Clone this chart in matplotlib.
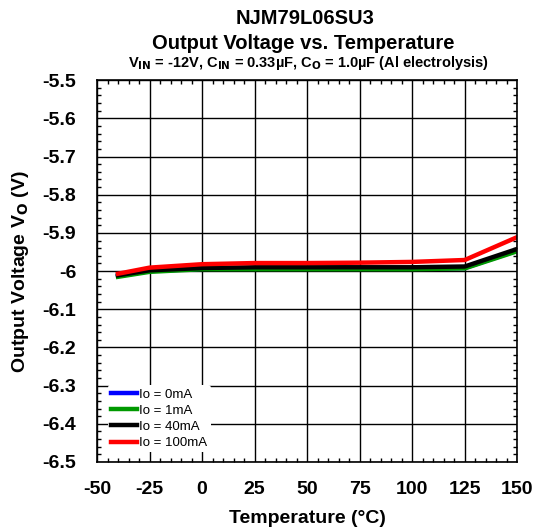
import numpy as np
import matplotlib.pyplot as plt
from matplotlib.ticker import MultipleLocator

plt.rcParams['font.family'] = ['Liberation Sans', 'DejaVu Sans']
plt.rcParams['axes.unicode_minus'] = False

# === Data ===
temp = [-40, -25, 0, 25, 50, 75, 100, 125, 150]
vo_0mA = [-6.013, -6.000, -5.994, -5.994, -5.994, -5.994, -5.994, -5.992, -5.946]
vo_1mA = [-6.015, -6.002, -5.995, -5.995, -5.995, -5.995, -5.995, -5.993, -5.948]
vo_40mA = [-6.011, -5.998, -5.992, -5.990, -5.990, -5.990, -5.990, -5.988, -5.942]
vo_100mA = [-6.007, -5.991, -5.982, -5.979, -5.979, -5.978, -5.976, -5.971, -5.911]

labels = ['Io = 0mA', 'Io = 1mA', 'Io = 40mA', 'Io = 100mA']
colors = ['#0000ff', '#009900', '#000000', '#ff0000']
xticks = [-50, -25, 0, 25, 50, 75, 100, 125, 150]
yticks = [-5.5, -5.6, -5.7, -5.8, -5.9, -6.0, -6.1, -6.2, -6.3, -6.4, -6.5]
ytick_labels = ['-5.5', '-5.6', '-5.7', '-5.8', '-5.9', '-6', '-6.1', '-6.2', '-6.3', '-6.4', '-6.5']

# === Plot ===
fig = plt.figure(figsize=(5.36, 5.31), dpi=100)
ax = fig.add_axes([0.181, 0.130, 0.784, 0.719])

for vals, lab, col in zip([vo_0mA, vo_1mA, vo_40mA, vo_100mA], labels, colors):
    ax.plot(temp, vals, color=col, lw=3.2, label=lab)

ax.set_xlim(-50, 150)
ax.set_ylim(-6.5, -5.5)
ax.set_xticks(xticks)
ax.set_yticks(yticks)
ax.set_yticklabels(ytick_labels)
ax.xaxis.set_minor_locator(MultipleLocator(5))
ax.yaxis.set_minor_locator(MultipleLocator(0.02))
ax.tick_params(which='both', direction='in', top=True, right=True)
ax.tick_params(which='major', length=0, labelsize=14)
ax.tick_params(axis='x', which='major', pad=14)
ax.tick_params(axis='y', which='major', pad=15)
ax.tick_params(which='minor', length=3, width=1)
for t in ax.get_xticklabels() + ax.get_yticklabels():
    t.set_fontweight('bold')
ax.grid(True, which='major', color='black', lw=1)
for s in ax.spines.values():
    s.set_linewidth(1.2)

ax.set_xlabel('Temperature (°C)', fontsize=14, fontweight='bold', labelpad=8)
ax.set_ylabel('Output Voltage V$_\\mathbf{O}$ (V)', fontsize=14, fontweight='bold', labelpad=8)

fig.text(0.57, 0.965, 'NJM79L06SU3', ha='center', va='center', fontsize=14.5, fontweight='bold')
fig.text(0.565, 0.919, 'Output Voltage vs. Temperature', ha='center', va='center', fontsize=14.5, fontweight='bold')
fig.text(0.575, 0.882, 'V$_\\mathbf{IN}$ = -12V, C$_\\mathbf{IN}$ = 0.33µF, C$_\\mathbf{O}$ = 1.0µF (Al electrolysis)',
         ha='center', va='center', fontsize=10.5, fontweight='bold')

leg = ax.legend(loc='lower left', bbox_to_anchor=(0.025, 0.025), fontsize=9.5, frameon=True,
                handlelength=2.0, handletextpad=0.15, labelspacing=0.3, borderpad=0.25,
                borderaxespad=0.0)
leg.get_frame().set_edgecolor('none')
leg.get_frame().set_facecolor('white')
leg.get_frame().set_alpha(1)

plt.savefig('out.png', dpi=100)
